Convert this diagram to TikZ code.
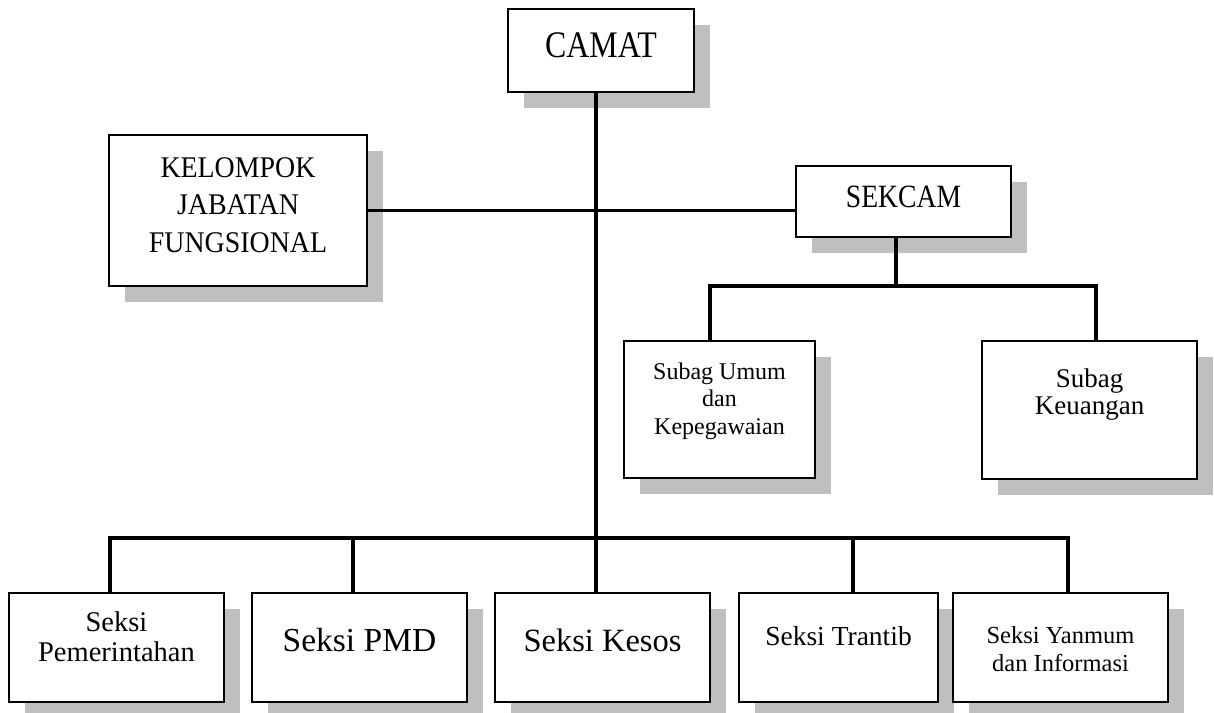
\documentclass[tikz,border=0pt]{standalone}
\usepackage{fontspec}
\setmainfont{Liberation Serif}
\newfontfamily\capA[FakeStretch=0.85]{Liberation Serif}
\newfontfamily\capB[FakeStretch=0.93]{Liberation Serif}
\tikzset{
  x=1pt, y=-1pt,
  unitbox/.style={draw=black, fill=white, line width=1.6pt, inner sep=0pt, outer sep=0pt},
  conn/.style={draw=black, line width=3.2pt, line join=miter},
  shadowc/.style={fill=black!25},
  lbl/.style={anchor=base, inner sep=0pt},
}
\newcommand\orgbox[5]{%
  \fill[shadowc] ({#2+16},{#3+16}) rectangle ({#4+16},{#5+16});
  \node[unitbox, minimum width={(#4-#2)*1pt}, minimum height={(#5-#3)*1pt}, anchor=north west] (#1) at (#2,#3) {};
}
\newcommand\fsz[2]{\fontsize{#1}{#2}\selectfont}
\newcommand\lines[1]{\begin{tabular}[t]{@{}c@{}}#1\end{tabular}}
\begin{document}
\begin{tikzpicture}
\useasboundingbox (0,0) rectangle (1214,712);
% coordinates for connector joints
\coordinate (busC) at (596,538);
\coordinate (b1) at (110,538);
\coordinate (b2) at (353,538);
\coordinate (b4) at (853,538);
\coordinate (b5) at (1068,538);
\coordinate (sbus) at (896,286);
\coordinate (sL) at (710,286);
\coordinate (sR) at (1096,286);

% boxes
\orgbox{camat}{508}{9}{694}{92}
\orgbox{kjf}{109}{135}{367}{286}
\orgbox{sekcam}{796}{166}{1011}{237}
\orgbox{subum}{624}{341}{815}{478}
\orgbox{subku}{982}{341}{1197}{479}
\orgbox{s1}{9}{593}{224}{702}
\orgbox{s2}{252}{593}{467}{702}
\orgbox{s3}{495}{593}{710}{702}
\orgbox{s4}{739}{593}{938}{702}
\orgbox{s5}{953}{593}{1168}{702}

% connectors
\draw[conn] (camat.south -| busC) -- (busC);
\draw[conn] (kjf.east) -- (kjf.east -| sekcam.west);
\draw[conn] (sekcam.south -| sbus) -- (sbus);
\draw[conn] (sL |- subum.north) -- (sL) -- (sR) -- (sR |- subku.north);
\draw[conn] (b1 |- s1.north) -- (b1) -- (b5) -- (b5 |- s5.north);
\draw[conn] (b2) -- (b2 |- s2.north);
\draw[conn] (busC) -- (busC |- s3.north);
\draw[conn] (b4) -- (b4 |- s4.north);

% texts
\node[lbl, font=\capA\fsz{37.5}{40}] (camat-t) at ([yshift=-48pt]camat.north) {CAMAT};
\node[lbl, font=\capB\fsz{30}{37.5}] (kjf-t) at ([yshift=-42pt]kjf.north) {\lines{KELOMPOK\\JABATAN\\FUNGSIONAL}};
\node[lbl, font=\capA\fsz{32.5}{34}] (sekcam-t) at ([yshift=-41pt]sekcam.north) {SEKCAM};
\node[lbl, font=\fsz{24}{27.5}] (subum-t) at ([yshift=-38pt]subum.north) {\lines{Subag Umum\\dan\\Kepegawaian}};
\node[lbl, font=\fsz{27}{27}] (subku-t) at ([yshift=-46pt]subku.north) {\lines{Subag\\Keuangan}};
\node[lbl, font=\fsz{28.5}{30}] (s1-t) at ([yshift=-38pt]s1.north) {\lines{Seksi\\Pemerintahan}};
\node[lbl, font=\fsz{33.5}{38}] (s2-t) at ([yshift=-58pt]s2.north) {Seksi PMD};
\node[lbl, font=\fsz{32.5}{38}] (s3-t) at ([yshift=-58pt]s3.north) {Seksi Kesos};
\node[lbl, font=\fsz{27.5}{32}] (s4-t) at ([yshift=-52pt]s4.north) {Seksi Trantib};
\node[lbl, font=\fsz{24.5}{28}] (s5-t) at ([yshift=-50pt]s5.north) {\lines{Seksi Yanmum\\dan Informasi}};
\end{tikzpicture}
\end{document}
